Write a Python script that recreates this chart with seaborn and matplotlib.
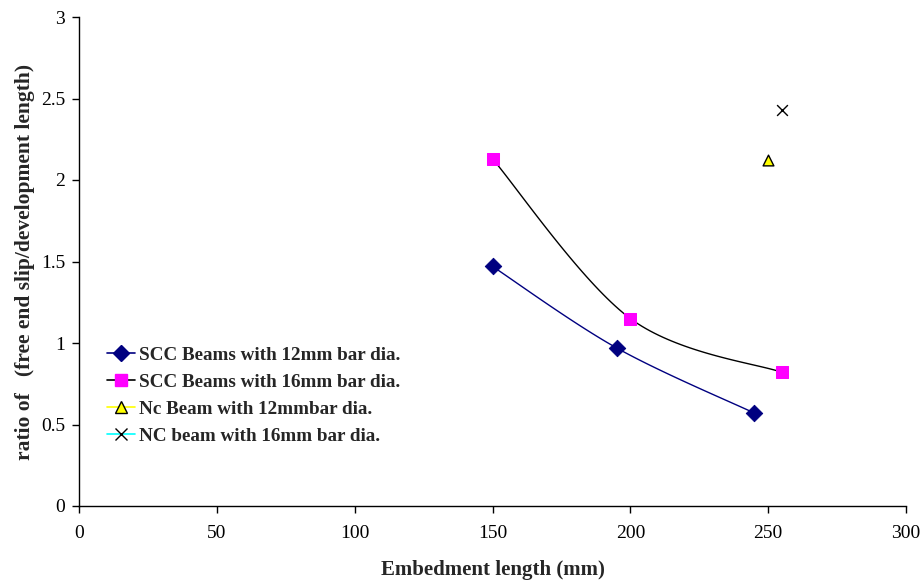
import numpy as np
import matplotlib
matplotlib.use("Agg")
import matplotlib.pyplot as plt
import seaborn as sns
import pandas as pd
from matplotlib.lines import Line2D

# Data
scc12_x = [150, 195, 245]
scc12_y = [1.47, 0.97, 0.57]
scc16_x = [150, 200, 255]
scc16_y = [2.13, 1.15, 0.82]
nc12_x = [250]
nc12_y = [2.12]
nc16_x = [255]
nc16_y = [2.43]
labels = ["SCC Beams with 12mm bar dia.", "SCC Beams with 16mm bar dia.",
          "Nc Beam with 12mmbar dia.", "NC beam with 16mm bar dia."]
xticks = [0, 50, 100, 150, 200, 250, 300]
yticks = [0, 0.5, 1, 1.5, 2, 2.5, 3]

sns.set_theme(style="white")
plt.rcParams['font.family'] = ['Liberation Serif', 'DejaVu Serif']

fig = plt.figure(figsize=(9.23, 5.8), dpi=100)
ax = fig.add_axes([79/923, 74/580, 827/923, 489/580])

def smooth(xs, ys, sx=827/300, sy=489/3, n=40):
    P = np.column_stack([np.array(xs) * sx, np.array(ys) * sy])
    m = len(P)
    out = []
    for i in range(m - 1):
        p0 = P[max(i - 1, 0)]
        p1 = P[i]
        p2 = P[i + 1]
        p3 = P[min(i + 2, m - 1)]
        c1 = p1 + (p2 - p0) / 6
        c2 = p2 - (p3 - p1) / 6
        t = np.linspace(0, 1, n)[:, None]
        seg = ((1 - t) ** 3) * p1 + 3 * ((1 - t) ** 2) * t * c1 + 3 * (1 - t) * t ** 2 * c2 + t ** 3 * p2
        out.append(seg)
    C = np.vstack(out)
    return C[:, 0] / sx, C[:, 1] / sy

x1, y1 = smooth(scc12_x, scc12_y)
x2, y2 = smooth(scc16_x, scc16_y)
ax.plot(x1, y1, color="#000080", lw=1.0, zorder=2)
ax.plot(x2, y2, color="black", lw=1.0, zorder=2)

df1 = pd.DataFrame({"x": scc12_x, "y": scc12_y})
df2 = pd.DataFrame({"x": scc16_x, "y": scc16_y})
df3 = pd.DataFrame({"x": nc12_x, "y": nc12_y})
df4 = pd.DataFrame({"x": nc16_x, "y": nc16_y})
sns.scatterplot(data=df1, x="x", y="y", ax=ax, marker="D", s=70, color="#000080",
                edgecolor="#000080", zorder=3)
sns.scatterplot(data=df2, x="x", y="y", ax=ax, marker="s", s=85, color="#FF00FF",
                edgecolor="#FF00FF", zorder=3)
sns.scatterplot(data=df3, x="x", y="y", ax=ax, marker="^", s=60, color="#FFFF00",
                edgecolor="black", linewidth=1.0, zorder=3)
sns.scatterplot(data=df4, x="x", y="y", ax=ax, marker="x", s=60, color="black",
                linewidth=1.0, zorder=3)

ax.set_xlim(0, 300)
ax.set_ylim(0, 3)
ax.set_xticks(xticks)
ax.set_xticklabels([str(v) for v in xticks])
ax.set_yticks(yticks)
ax.set_yticklabels(["0", "0.5", "1", "1.5", "2", "2.5", "3"])
ax.tick_params(axis="both", direction="out", length=5, width=1, colors="black",
               labelsize=14, bottom=True, left=True)
ax.tick_params(axis="x", pad=9)
ax.tick_params(axis="y", pad=5)
for s in ["top", "right"]:
    ax.spines[s].set_visible(False)
for s in ["left", "bottom"]:
    ax.spines[s].set_color("black")
    ax.spines[s].set_linewidth(1.0)
ax.grid(False)

ax.set_xlabel("Embedment length (mm)", fontsize=15, fontweight="bold", labelpad=13)
ax.set_ylabel("ratio of   (free end slip/development length)", fontsize=15.5,
              fontweight="bold", labelpad=4)

handles = [
    Line2D([], [], color="#000080", marker="D", markersize=8, markerfacecolor="#000080", lw=1.2),
    Line2D([], [], color="black", marker="s", markersize=8.5, markerfacecolor="#FF00FF",
           markeredgecolor="#FF00FF", lw=1.2),
    Line2D([], [], color="#FFFF00", marker="^", markersize=8, markerfacecolor="#FFFF00",
           markeredgecolor="black", lw=1.2),
    Line2D([], [], color="#00FFFF", marker="x", markersize=8, markeredgecolor="black", lw=1.2),
]
leg = ax.legend(handles, labels, loc="upper left", bbox_to_anchor=(0.013, 0.361),
                frameon=False, handlelength=1.45, handletextpad=0.2, labelspacing=0.5,
                prop={"family": "Liberation Serif", "weight": "bold", "size": 13.8})

fig.savefig("out.png", dpi=100)
